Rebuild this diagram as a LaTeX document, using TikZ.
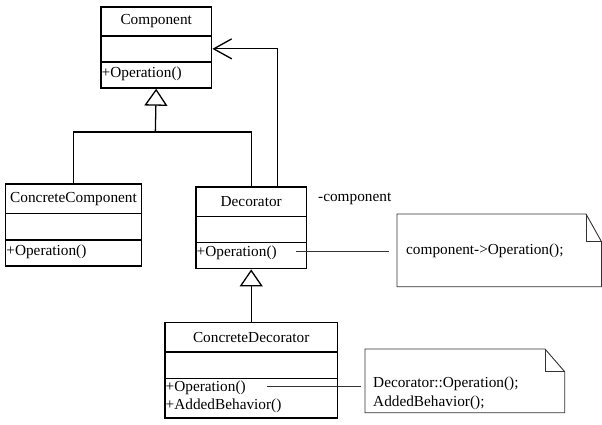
\documentclass[tikz,border=0pt]{standalone}
\usepackage{fontspec}
\setmainfont{Liberation Serif}
\usetikzlibrary{arrows.meta}
\begin{document}
\begin{tikzpicture}[x=1pt,y=-1pt,
  cbox/.style={draw, line width=1.7pt, anchor=north west, inner sep=0pt, font=\fontsize{15.3}{18.3}\selectfont},
  optext/.style={anchor=west, inner sep=0pt, align=left, font=\fontsize{15.3}{18.3}\selectfont},
  conn/.style={line width=1.3pt},
  gen/.style={line width=1.3pt, -{Triangle[open, length=17pt, width=23pt, line width=1.3pt]}},
  assoc/.style={line width=1.3pt, -{Straight Barb[length=18pt, width=20pt, line width=1.3pt]}},
  notebox/.style={line width=0.9pt, draw=black!80},
  notetext/.style={anchor=west, inner sep=0pt, align=left, font=\fontsize{15.3}{19.5}\selectfont}]
\useasboundingbox (0,0) rectangle (602,425);

% Component
\node[cbox, minimum width=110.7pt, minimum height=29pt] (compN) at (100,6) {Component};
\node[cbox, minimum width=110.7pt, minimum height=26pt] (compA) at (100,35) {};
\node[cbox, minimum width=110.7pt, minimum height=26pt] (compO) at (100,61) {};
\node[optext] (compOt) at ([xshift=1.5pt,yshift=1.5pt]compO.west) {+Operation()};

% ConcreteComponent
\node[cbox, minimum width=136pt, minimum height=29.4pt] (ccN) at (4.7,183.3) {ConcreteComponent};
\node[cbox, minimum width=136pt, minimum height=26.3pt] (ccA) at (4.7,212.7) {};
\node[cbox, minimum width=136pt, minimum height=26pt] (ccO) at (4.7,239) {};
\node[optext] (ccOt) at ([xshift=1.5pt,yshift=1pt]ccO.west) {+Operation()};

% Decorator
\node[cbox, minimum width=110.7pt, minimum height=29.7pt] (decN) at (195,186) {Decorator};
\node[cbox, minimum width=110.7pt, minimum height=26pt] (decA) at (195,215.7) {};
\node[cbox, minimum width=110.7pt, minimum height=26pt] (decO) at (195,241.7) {};
\node[optext] (decOt) at ([xshift=1.5pt,yshift=2.5pt]decO.west) {+Operation()};

% ConcreteDecorator
\node[cbox, minimum width=172.7pt, minimum height=29.3pt] (cdN) at (164,321.7) {ConcreteDecorator};
\node[cbox, minimum width=172.7pt, minimum height=26.7pt] (cdA) at (164,351) {};
\node[cbox, minimum width=172.7pt, minimum height=39.6pt] (cdO) at (164,377.7) {};
\node[optext] (cdOt) at ([xshift=1.5pt,yshift=1.5pt]cdO.west) {+Operation()\\+AddedBehavior()};

% generalization Component
\coordinate (j1) at (155.35,132);
\draw[conn] (ccN.north) |- (j1) -| (decN.north);
\draw[gen] (j1) -- (compO.south);

% association
\coordinate (asc) at (277.7,186);
\draw[assoc] (asc) |- (compA.east);
\node[anchor=west, inner sep=0pt, font=\fontsize{15.3}{18.3}\selectfont] (rolelbl) at (318,199) {-component};

% generalization Decorator
\draw[gen] (cdN.north) -- (decO.south);

% note 1
\coordinate (n1a) at (397,214);
\coordinate (n1b) at (586,214);
\coordinate (n1c) at (601.5,241.7);
\coordinate (n1d) at (601.5,286.7);
\coordinate (n1e) at (397,286.7);
\draw[notebox] (n1a) -- (n1b) -- (n1c) -- (n1d) -- (n1e) -- cycle;
\draw[notebox] (n1b) |- (n1c);
\node[notetext] (n1t) at (406,251) {component->Operation();};
\coordinate (l1s) at (296,251);
\coordinate (l1e) at (389,251);
\draw[notebox] (l1s) -- (l1e);

% note 2
\coordinate (n2a) at (365,349);
\coordinate (n2b) at (545,349);
\coordinate (n2c) at (564.7,371.7);
\coordinate (n2d) at (564.7,412.7);
\coordinate (n2e) at (365,412.7);
\draw[notebox] (n2a) -- (n2b) -- (n2c) -- (n2d) -- (n2e) -- cycle;
\draw[notebox] (n2b) |- (n2c);
\node[notetext] (n2t) at (373,393.5) {Decorator::Operation();\\AddedBehavior();};
\coordinate (l2s) at (266.7,386.7);
\coordinate (l2e) at (360.7,386.7);
\draw[notebox] (l2s) -- (l2e);
\end{tikzpicture}
\end{document}
